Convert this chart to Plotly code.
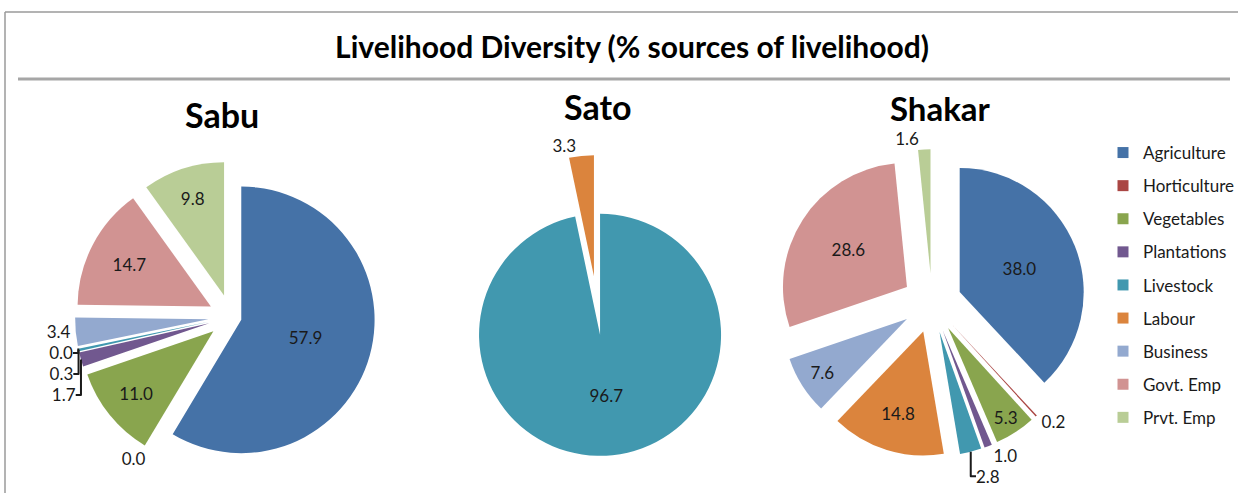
import plotly.graph_objects as go

W, H = 1238, 493

categories = ["Agriculture", "Horticulture", "Vegetables", "Plantations", "Livestock",
              "Labour", "Business", "Govt. Emp", "Prvt. Emp"]
colors = ["#4572A7", "#AA4643", "#89A54E", "#71588F", "#4198AF",
          "#DB843D", "#93A9CF", "#D19392", "#B9CD96"]

sabu_values = [57.9, 0.0, 11.0, 1.7, 0.3, 0.0, 3.4, 14.7, 9.8]
sato_values = [0.0, 0.0, 0.0, 0.0, 96.7, 3.3, 0.0, 0.0, 0.0]
shakar_values = [38.0, 0.2, 5.3, 1.0, 2.8, 14.8, 7.6, 28.6, 1.6]

village_names = ["Sabu", "Sato", "Shakar"]
chart_title = "Livelihood Diversity (% sources of livelihood)"

FONT = "Lato"
TXT = "#1a1a1a"


def px_x(x):
    return x / W


def px_y(y):
    return 1 - y / H


def box(cx, cy, half):
    return dict(x=[px_x(cx - half), px_x(cx + half)],
                y=[px_y(cy + half), px_y(cy - half)])


fig = go.Figure()

# Sabu
sabu_pos = ["inside", "outside", "inside", "outside", "outside", "outside", "outside", "inside", "inside"]
sabu_pull = [0.08] + [0.17] * 8
fig.add_trace(go.Pie(
    labels=categories, values=sabu_values, sort=False, direction="clockwise", rotation=0,
    marker=dict(colors=colors, line=dict(width=0)),
    pull=sabu_pull, textposition=sabu_pos, texttemplate="%{value:.1f}",
    insidetextorientation="horizontal",
    textfont=dict(family=FONT, size=17, color=TXT),
    domain=box(231, 317, 133.3 * 1.17), showlegend=False, name=village_names[0]))

# Sato (non-zero categories only)
sato_idx = [i for i, v in enumerate(sato_values) if v > 0]
fig.add_trace(go.Pie(
    labels=[categories[i] for i in sato_idx], values=[sato_values[i] for i in sato_idx],
    sort=False, direction="clockwise", rotation=0,
    marker=dict(colors=[colors[i] for i in sato_idx], line=dict(width=0)),
    pull=[0.244, 0.244], textposition=["inside", "outside"], texttemplate="%{value:.1f}",
    insidetextorientation="horizontal",
    textfont=dict(family=FONT, size=17, color=TXT),
    domain=box(597, 305.5, 121 * 1.244), showlegend=False, name=village_names[1]))

# Shakar
shakar_pos = ["inside", "outside", "inside", "outside", "outside", "inside", "inside", "inside", "outside"]
fig.add_trace(go.Pie(
    labels=categories, values=shakar_values, sort=False, direction="clockwise", rotation=0,
    marker=dict(colors=colors, line=dict(width=0)),
    pull=[0.24] * 9, textposition=shakar_pos, texttemplate="%{value:.1f}",
    insidetextorientation="horizontal",
    textfont=dict(family=FONT, size=17, color=TXT),
    domain=box(932, 303, 124 * 1.24), showlegend=False, name=village_names[2]))

# legend entries
for c, col in zip(categories, colors):
    fig.add_trace(go.Scatter(x=[None], y=[None], mode="markers", name=c, legendgroup=c,
                             marker=dict(symbol="square", size=11, color=col),
                             hoverinfo="skip"))

sub_font = dict(family=FONT, size=34, color="#000000", weight="bold")
annotations = [
    dict(text=village_names[0], x=px_x(222), y=px_y(115), yanchor="middle", font=sub_font),
    dict(text=village_names[1], x=px_x(598), y=px_y(107), yanchor="middle", font=sub_font),
    dict(text=village_names[2], x=px_x(940), y=px_y(129.5), yanchor="bottom",
         font=dict(sub_font, size=33)),
]
for a in annotations:
    a.update(xref="paper", yref="paper", showarrow=False, xanchor="center")

shapes = [
    dict(type="line", xref="paper", yref="paper", x0=px_x(18), x1=px_x(1230), y0=px_y(79), y1=px_y(79),
         line=dict(color="#A6A6A6", width=3)),
    dict(type="line", xref="paper", yref="paper", x0=px_x(5), x1=1, y0=px_y(12), y1=px_y(12),
         line=dict(color="#9A9A9A", width=1.5)),
    dict(type="line", xref="paper", yref="paper", x0=px_x(5), x1=px_x(5), y0=px_y(12), y1=0,
         line=dict(color="#9A9A9A", width=1.5)),
]

fig.update_layout(
    width=W, height=H, margin=dict(l=0, r=0, t=0, b=0, autoexpand=False),
    paper_bgcolor="white", plot_bgcolor="white",
    title=dict(text=chart_title, x=px_x(632), xanchor="center", y=px_y(47), yanchor="middle",
               font=dict(family=FONT, size=30, color="#000000", weight="bold")),
    xaxis=dict(visible=False), yaxis=dict(visible=False),
    legend=dict(x=px_x(1103), xanchor="left", y=px_y(135), yanchor="top",
                font=dict(family=FONT, size=17, color=TXT), tracegroupgap=8,
                bgcolor="rgba(0,0,0,0)", itemwidth=30),
    annotations=annotations, shapes=shapes,
)

fig.write_html("out.html")
